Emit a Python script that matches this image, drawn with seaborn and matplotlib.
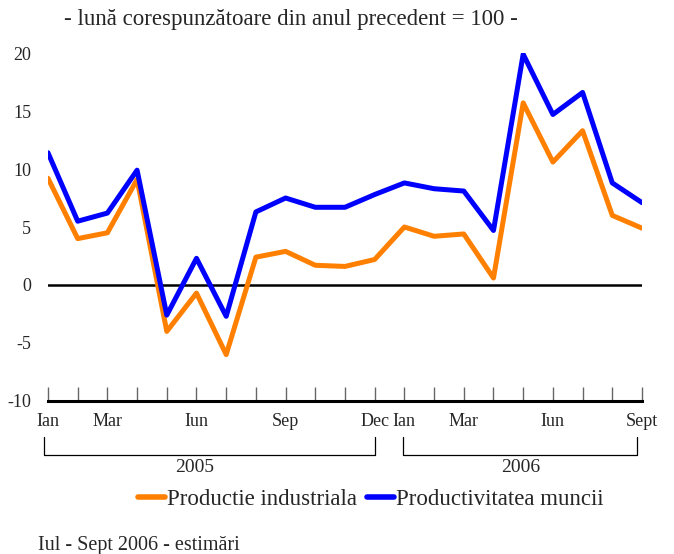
import matplotlib
matplotlib.use('Agg')
import matplotlib.pyplot as plt
import matplotlib.transforms as mtransforms
import pandas as pd
import seaborn as sns

# months Jan 2005 .. Sept 2006 (index 0..20)
month_idx = list(range(21))
tick_labels = ['Ian', '', 'Mar', '', '', 'Iun', '', '', 'Sep', '', '', 'Dec',
               'Ian', '', 'Mar', '', '', 'Iun', '', '', 'Sept']
productie = [9.2, 4.0, 4.5, 9.1, -4.0, -0.7, -6.0, 2.4, 2.9, 1.7, 1.6, 2.2,
             5.0, 4.2, 4.4, 0.6, 15.7, 10.6, 13.3, 6.0, 4.9]
productivitate = [11.4, 5.5, 6.2, 9.9, -2.6, 2.3, -2.7, 6.3, 7.5, 6.7, 6.7, 7.8,
                  8.8, 8.3, 8.1, 4.7, 19.9, 14.7, 16.6, 8.8, 7.1]
series_names = ['Productie industriala', 'Productivitatea muncii']
series_colors = ['#FF8000', '#0000FF']
years = ['2005', '2006']

df = pd.DataFrame({
    'luna': month_idx * 2,
    'valoare': productie + productivitate,
    'serie': [series_names[0]] * 21 + [series_names[1]] * 21,
})

sns.set_style('white')
plt.rcParams['font.family'] = ['Liberation Serif', 'DejaVu Serif']

fig = plt.figure(figsize=(6.74, 5.54), dpi=100)
ax = fig.add_axes([0.0712, 0.2762, 0.8813, 0.6281])

sns.lineplot(data=df, x='luna', y='valoare', hue='serie', palette=series_colors,
             linewidth=3.6, ax=ax, legend=True)
ax.axhline(0, color='black', linewidth=1.8, zorder=1)

ax.set_xlim(0, 20)
ax.set_ylim(-10, 20)
ax.set_yticks([-10, -5, 0, 5, 10, 15, 20])
ax.set_yticklabels(['-10', '-5', '0', '5', '10', '15', '20'], fontsize=13)
ax.tick_params(axis='y', left=False, length=0, pad=12)
ax.set_xticks(month_idx)
ax.set_xticklabels(tick_labels, fontsize=13)
ax.tick_params(axis='x', bottom=True, direction='in', length=10, width=1,
               color='#666666', pad=9)
ax.set_xlabel('')
ax.set_ylabel('')
for s in ['left', 'right', 'top']:
    ax.spines[s].set_visible(False)
ax.spines['bottom'].set_linewidth(2.2)
ax.spines['bottom'].set_color('black')
ax.spines['bottom'].set_zorder(5)

# year brackets under the month labels
trans = mtransforms.blended_transform_factory(ax.transData, ax.transAxes)
brackets = [(-0.13, 11.0), (11.95, 19.83)]
for (x0, x1), yr in zip(brackets, years):
    ax.plot([x0, x0, x1, x1], [-0.103, -0.155, -0.155, -0.103], color='black',
            linewidth=0.9, transform=trans, clip_on=False)
ax.text(4.95, -0.19, years[0], transform=trans, ha='center', va='center', fontsize=14)
ax.text(15.9, -0.19, years[1], transform=trans, ha='center', va='center', fontsize=14)

handles, labels = ax.get_legend_handles_labels()
leg = ax.legend(handles, labels, loc='center', bbox_to_anchor=(0.55, 0.098),
                bbox_transform=fig.transFigure, ncol=2, frameon=False,
                handlelength=1.2, handletextpad=0.1, columnspacing=0.4,
                prop={'family': 'Liberation Serif', 'size': 16.5})
for line in leg.get_lines():
    line.set_linewidth(4)

fig.text(0.431, 0.965, '- lună corespunzătoare din anul precedent = 100 -',
         ha='center', va='center', fontsize=16.5)
fig.text(0.056, 0.016, 'Iul - Sept 2006 - estimări', ha='left', va='center', fontsize=14.5)

fig.savefig('out.png', dpi=100)
